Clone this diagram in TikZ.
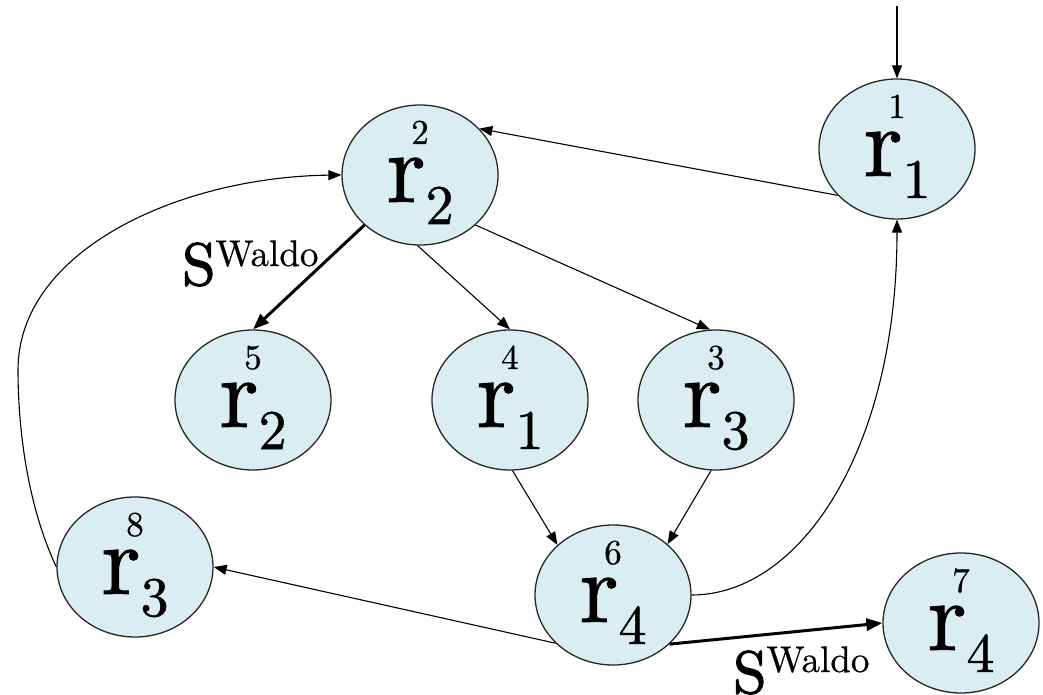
\documentclass[tikz,border=0pt]{standalone}
\usepackage{fontspec}
\newfontfamily\myserif{lmroman10-regular}[Extension=.otf, FakeBold=0.9]
\newfontfamily\myserifsmall{lmroman10-regular}[Extension=.otf, FakeBold=0.6]
\newfontfamily\myserifS{lmroman10-regular}[Extension=.otf, FakeBold=2.0]
\usetikzlibrary{shapes.geometric,arrows.meta}
\definecolor{nodefill}{HTML}{DAEDF0}
\newcommand{\myRfont}{\myserif\fontsize{100}{100}\selectfont}
\newcommand{\mySubfont}{\myserif\fontsize{56}{56}\selectfont}
\newcommand{\mySupfont}{\myserifsmall\fontsize{35}{35}\selectfont}
\newcommand{\mySfont}{\myserifS\fontsize{60}{60}\selectfont}
\newcommand{\myWfont}{\myserifsmall\fontsize{37}{37}\selectfont}
\newcommand{\mkstate}[4]{%
  \node[st] (#1) at (#2) {};
  \node[lbl, anchor=base] (#1sup) at ([yshift=31pt]#1.center) {\mySupfont #3};
  \node[lbl, anchor=base] (#1r) at ([yshift=-27pt]#1.center) {\raisebox{0pt}[46pt][24pt]{\myRfont r\raisebox{-22pt}{\mySubfont #4}}};
}
\begin{document}
\begin{tikzpicture}[x=1pt,y=1pt,
  st/.style={ellipse, draw=black!85, line width=1.3pt, fill=nodefill,
    minimum width=156pt, minimum height=140pt, inner sep=0pt},
  lbl/.style={inner sep=0pt, outer sep=0pt},
  edge/.style={line width=1.1pt, -{Triangle[length=13pt,width=10pt]}},
  thickedge/.style={line width=3pt, -{Triangle[length=16pt,width=12pt]}},
  waldo/.style={inner sep=0pt, anchor=base west}
]
\useasboundingbox (0,0) rectangle (1043,694);

\mkstate{n1}{897,545}{1}{1}
\mkstate{n2}{420,519}{2}{2}
\mkstate{n5}{253,294}{5}{2}
\mkstate{n4}{510,294}{4}{1}
\mkstate{n3}{716,294}{3}{3}
\mkstate{n8}{135,127}{8}{3}
\mkstate{n6}{613,99}{6}{4}
\mkstate{n7}{961,71}{7}{4}

\coordinate (start) at (897,688);
\coordinate (lc) at (18,324);

\draw[edge] (start) -- (n1.north);
\draw[edge] (n1.218.7) -- (n2.38);
\draw[thickedge] (n2.222) -- (n5.north);
\draw[edge] (n2.268) -- (n4.north);
\draw[edge] (n2.318) -- (n3.95);
\draw[edge] (n4.272) -- (n6.138);
\draw[edge] (n3.266) -- (n6.43);
\draw[edge] (n6.east) .. controls (800,99) and (897,244) .. (n1.south);
\draw[edge] (n6.220) -- (n8.east);
\draw[thickedge] (n6.319) -- (n7.west);
\draw[edge] (n8.west) .. controls (25,194) and (18,274) .. (lc)
  .. controls (18,444) and (180,517) .. (n2.west);

\node[waldo] (w1) at (182,409) {\mySfont S\raisebox{19pt}{\myWfont Waldo}};
\node[waldo] (w2) at (733,1) {\mySfont S\raisebox{21pt}{\myWfont Waldo}};
\end{tikzpicture}
\end{document}
